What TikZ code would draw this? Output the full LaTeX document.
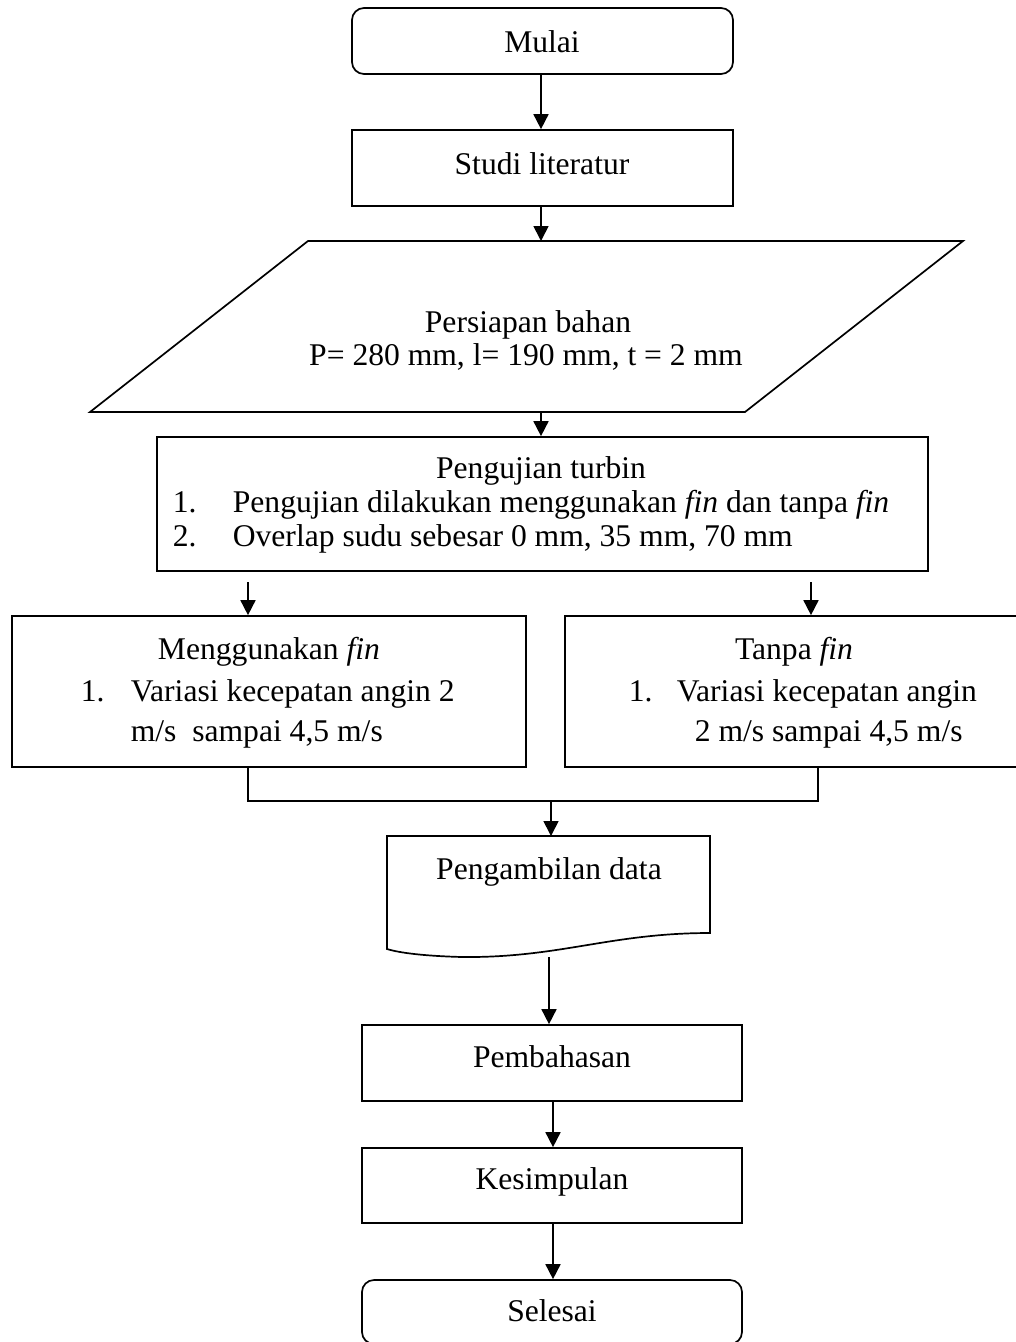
\documentclass[tikz,border=0pt]{standalone}
\usepackage{fontspec}
\setmainfont{Liberation Serif}
\usetikzlibrary{arrows.meta}
\begin{document}
\begin{tikzpicture}[x=1pt,y=-1pt,line width=1.7pt,
  txt/.style={font=\fontsize{31.6}{36}\selectfont,inner sep=0pt},
  boxnode/.style={draw,inner sep=0pt,minimum width=#1},
  rbox/.style={draw,inner sep=0pt,rounded corners=12pt,minimum width=#1},
  arr/.style={-{Triangle[length=15pt,width=15pt]}}]
\useasboundingbox (0,0) rectangle (1016,1342);
% shapes
\node[rbox=381pt,minimum height=66pt] (mulai) at (542.5,41) {};
\node[boxnode=381pt,minimum height=76pt] (studi) at (542.5,168) {};
\coordinate (prepT) at (541,241);
\coordinate (prepB) at (541,412);
\draw (308,241) -- (963,241) -- (745,412) -- (90,412) -- cycle;
\node[boxnode=771pt,minimum height=134pt] (uji) at (542.5,504) {};
\node[boxnode=514pt,minimum height=151pt] (pakai) at (269,691.5) {};
\node[boxnode=455pt,minimum height=151pt] (tanpa) at (792.5,691.5) {};
\coordinate (docT) at (551,836);
\coordinate (docB) at (549,957);
\draw (387,836) -- (710,836) -- (710,933)
  .. controls (610,933) and (560,958) .. (462,957)
  .. controls (425,956) and (400,953) .. (387,949) -- cycle;
\node[boxnode=380pt,minimum height=76pt] (bahas) at (552,1063) {};
\node[boxnode=380pt,minimum height=75pt] (simpul) at (552,1185.5) {};
\node[rbox=380pt,minimum height=64pt] (selesai) at (552,1312) {};
% texts
\node[txt,anchor=base] (t1) at (542,52) {Mulai};
\node[txt,anchor=base] (t2) at (542,174) {Studi literatur};
\node[txt,anchor=base] (t3) at (528,332) {Persiapan bahan};
\node[txt,anchor=base] (t4) at (526,365) {P= 280 mm, l= 190 mm, t = 2 mm};
\node[txt,anchor=base] (t5) at (541,478) {Pengujian turbin};
\node[txt,anchor=base west] (t6) at (172,512) {1.};
\node[txt,anchor=base west] (t7) at (232,512) {Pengujian dilakukan menggunakan \textit{fin} dan tanpa \textit{fin}};
\node[txt,anchor=base west] (t8) at (172,546) {2.};
\node[txt,anchor=base west] (t9) at (232,546) {Overlap sudu sebesar 0 mm, 35 mm, 70 mm};
\node[txt,anchor=base] (t10) at (269,659) {Menggunakan \textit{fin}};
\node[txt,anchor=base west] (t11) at (80,701) {1.};
\node[txt,anchor=base west] (t12) at (130,701) {Variasi kecepatan angin 2};
\node[txt,anchor=base west] (t13) at (130,741) {m/s\ \ sampai 4,5 m/s};
\node[txt,anchor=base] (t14) at (794,659) {Tanpa \textit{fin}};
\node[txt,anchor=base west] (t15) at (628,701) {1.};
\node[txt,anchor=base west] (t16) at (676,701) {Variasi kecepatan angin};
\node[txt,anchor=base west] (t17) at (694,741) {2 m/s sampai 4,5 m/s};
\node[txt,anchor=base] (t18) at (549,879) {Pengambilan data};
\node[txt,anchor=base] (t19) at (552,1067) {Pembahasan};
\node[txt,anchor=base] (t20) at (552,1189) {Kesimpulan};
\node[txt,anchor=base] (t21) at (552,1321) {Selesai};
% connectors
\draw[arr] (mulai.south -| prepT) -- (studi.north -| prepT);
\draw[arr] (studi.south -| prepT) -- (prepT);
\draw[arr] (prepB) -- (uji.north -| prepB);
\coordinate (aL) at (248,582);
\coordinate (aR) at (811,582);
\draw[arr] (aL) -- (aL |- pakai.north);
\draw[arr] (aR) -- (aR |- tanpa.north);
\coordinate (mL) at (248,801);
\coordinate (mR) at (818,801);
\coordinate (join) at (551,801);
\draw (pakai.south -| mL) -- (mL) -- (mR) -- (tanpa.south -| mR);
\draw[arr] (join) -- (docT);
\draw[arr] (docB) -- (docB |- bahas.north);
\draw[arr] (bahas.south -| 553,0) -- (simpul.north -| 553,0);
\draw[arr] (simpul.south -| 553,0) -- (selesai.north -| 553,0);
\end{tikzpicture}
\end{document}
